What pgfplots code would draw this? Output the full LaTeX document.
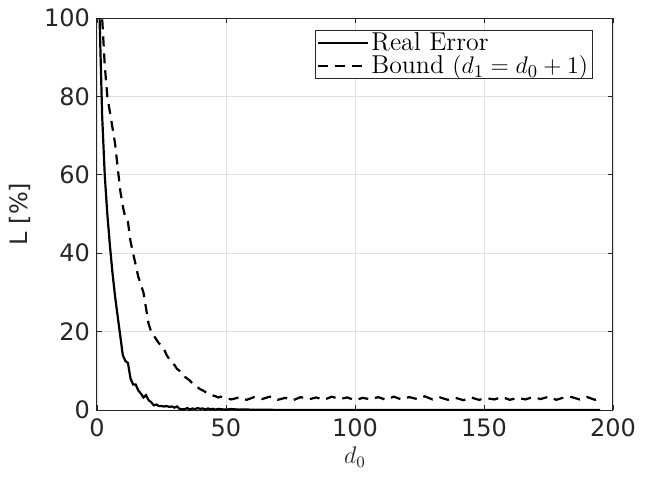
\documentclass[border=0pt]{standalone}
\usepackage{pgfplots}
\pgfplotsset{compat=1.18}
\usepackage{fontspec}
\newfontfamily\dejavu{DejaVu Sans}
\definecolor{axgray}{RGB}{38,38,38}
\definecolor{gridgray}{RGB}{225,225,225}
\begin{document}
\begin{tikzpicture}
\useasboundingbox (-48.5pt,-34.5pt) rectangle (274pt,205pt);
\begin{axis}[
  scale only axis, width=258pt, height=196pt,
  xmin=0, xmax=200, ymin=0, ymax=100,
  xtick={0,50,100,150,200}, ytick={0,20,40,60,80,100},
  grid=major, major grid style={gridgray, line width=0.4pt},
  axis line style={axgray, line width=0.5pt},
  tick style={axgray, line width=0.4pt}, major tick length=2.5pt,
  tick align=inside, xtick pos=both, ytick pos=both,
  /pgf/number format/assume math mode=true,
  tick label style={font=\dejavu\fontsize{12}{14}\selectfont, text=axgray},
  xticklabel style={yshift=-1pt},
  ylabel={\dejavu\fontsize{12}{14}\selectfont L [\%]},
  ylabel style={text=axgray},
  xlabel={$d_0$},
  xlabel style={font=\fontsize{12}{14}\selectfont, text=axgray, yshift=2pt},
  legend style={at={(0.96,0.97)}, anchor=north east, draw=axgray, line width=0.4pt,
    font=\fontsize{12.9}{12}\selectfont, inner xsep=1pt, inner ysep=0.5pt,
    row sep=0pt, nodes={inner ysep=0.6pt, inner xsep=1pt}},
  legend cell align=left,
  legend image code/.code={\draw[#1] (0pt,0pt) -- (25pt,0pt);},
  clip=true,
]
\addplot[black, line width=1.1pt] coordinates {
(1,100) (2,75) (3,60) (4,50) (5,42) (6,35) (7,29) (8,24) (9,19) (10,14)
(11,12.5) (12,12) (13,8) (14,6.5) (15,6.5) (16,5) (17,4.2) (18,3.2) (19,3.8) (20,2.5)
(21,2) (22,1.2) (23,1.4) (24,1) (25,1) (26,0.9) (27,1) (28,0.8) (29,0.9) (30,0.6)
(31,0.9) (32,0.3) (33,0.2) (34,0.2) (35,0.5) (36,0.1) (37,0.4) (38,0.2) (39,0.5) (40,0.3)
(41,0.4) (42,0.1) (43,0.4) (44,0.2) (45,0.3) (46,0.1) (47,0.3) (48,0.2) (50,0.1) (52,0.25)
(55,0.1) (58,0.15) (60,0.05) (65,0.1) (70,0) (80,0) (100,0) (120,0) (140,0) (160,0) (180,0) (195,0)
};
\addlegendentry{Real Error}
\addplot[black, line width=1.1pt, dash pattern=on 5pt off 3.5pt] coordinates {
(1,130) (2,100) (3,88) (4,80) (5,76) (6,72) (7,68) (8,62) (9,56) (10,52)
(11,49) (12,48) (13,43) (14,40) (15,37) (16,34) (17,32) (18,30) (19,26) (20,22)
(21,20) (22,19) (23,18) (24,17) (25,16.5) (26,15.5) (27,14) (28,13) (29,12) (30,11.5)
(31,10.5) (32,10) (33,9.5) (34,8.5) (35,8) (36,7.5) (37,6.8) (38,6.2) (39,5.8) (40,5.3)
(41,5) (42,4.6) (43,4.3) (44,4) (45,3.7) (46,3.5) (47,3.2) (48,3.4) (50,3)
(52,2.7) (55,3.2) (58,2.6) (61,3.3) (64,2.8) (67,3.4) (70,2.6) (73,3.1) (76,2.5) (79,3.3)
(82,2.7) (85,3.2) (88,2.6) (91,3.4) (94,2.8) (97,3.2) (100,2.5) (103,3.1) (106,2.7) (109,3.3)
(112,2.6) (115,3.4) (118,2.7) (121,3.3) (124,2.8) (127,3.5) (130,2.7) (133,3.2) (136,2.6) (139,3.1)
(142,2.5) (145,3.2) (148,2.6) (151,3.0) (154,2.7) (157,3.3) (160,2.6) (163,3.1) (166,2.7) (169,3.3)
(172,2.8) (175,3.4) (178,2.6) (181,3.2) (184,3.3) (187,2.7) (190,3.3) (193,2.6) (195,3.0)
};
\addlegendentry{Bound $(d_1=d_0+1)$}
\end{axis}
\end{tikzpicture}
\end{document}
